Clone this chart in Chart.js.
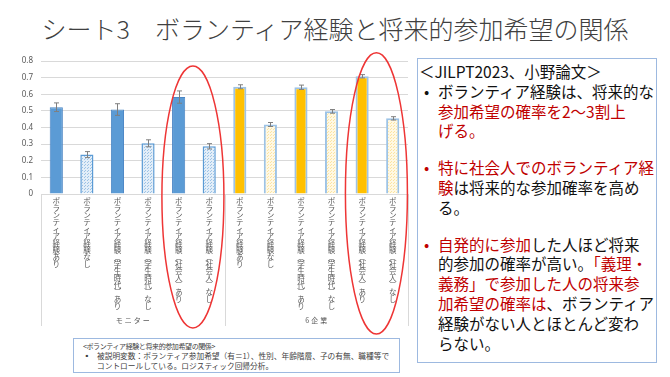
<!DOCTYPE html>
<html lang="ja">
<head>
<meta charset="utf-8">
<script src="https://cdn.jsdelivr.net/npm/chart.js@4.4.1/dist/chart.umd.min.js"></script>
<style>
  body { margin: 0; background: #fff; font-family: "Noto Sans CJK JP", "Noto Sans", sans-serif; }
  .page { position: relative; width: 670px; height: 377px; overflow: hidden; }
  .title { position: absolute; left: 0; top: 10px; width: 670px; text-align: center; font-size: 25px; line-height: 36px; font-weight: 300; color: #404040; white-space: nowrap; }
  .chart-box { position: absolute; left: 0; top: 45px; width: 415px; height: 292px; }
  .memo { position: absolute; left: 417px; top: 58px; width: 240px; height: 305px; border: 1.5px solid #9DB9E0; box-sizing: border-box; padding-top: 3px; font-size: 15.5px; line-height: 19.8px; color: #111; }
  .memo .ln { white-space: nowrap; padding-left: 20px; position: relative; }
  .memo .head { padding-left: 1px; }
  .memo .blank { height: 17px; }
  .memo .bul::before { content: "•"; position: absolute; left: 6px; }
  .memo .red, .memo .bul.r::before { color: #C00000; }
  .note { position: absolute; left: 73px; top: 338px; width: 327px; height: 35px; border: 1px solid #9DB9E0; box-sizing: border-box; font-size: 7.7px; line-height: 9.3px; color: #404040; padding: 3px 0 0 9px; }
  .note .ln { white-space: nowrap; }
  .note .hd { font-size: 7px; letter-spacing: -0.4px; }
  .note .in { padding-left: 14px; position: relative; }
  .note .sq::before { content: "▪"; position: absolute; left: 0; }
</style>
</head>
<body>
<div class="page">
  <div class="title">シート3　ボランティア経験と将来的参加希望の関係</div>
  <div class="chart-box"><canvas id="myChart" width="415" height="292"></canvas></div>
  <div class="memo">
    <div class="ln head">＜JILPT2023、小野論文＞</div>
    <div class="ln bul">ボランティア経験は、将来的な</div>
    <div class="ln red">参加希望の確率を2～3割上</div>
    <div class="ln red">げる。</div>
    <div class="blank"></div>
    <div class="ln bul r"><span class="red">特に社会人でのボランティア経</span></div>
    <div class="ln"><span class="red">験</span>は将来的な参加確率を高め</div>
    <div class="ln">る。</div>
    <div class="blank"></div>
    <div class="ln bul r"><span class="red">自発的に参加</span>した人ほど将来</div>
    <div class="ln">的参加の確率が高い。<span class="red">「義理・</span></div>
    <div class="ln red">義務」で参加した人の将来参</div>
    <div class="ln"><span class="red">加希望の確率は</span>、ボランティア</div>
    <div class="ln">経験がない人とほとんど変わ</div>
    <div class="ln">らない。</div>
  </div>
  <div class="note">
    <div class="ln hd">&lt;ボランティア経験と将来的参加希望の関係&gt;</div>
    <div class="ln in sq">被説明変数：ボランティア参加希望（有＝1）、性別、年齢階層、子の有無、職種等で</div>
    <div class="ln in">コントロールしている。ロジスティック回帰分析。</div>
  </div>
</div>

<script>
// data
const categories = [
    "ボランティア経験あり",
    "ボランティア経験なし",
    "ボランティア経験（学生時代）あり",
    "ボランティア経験（学生時代）なし",
    "ボランティア経験（社会人）あり",
    "ボランティア経験（社会人）なし",
    "ボランティア経験あり",
    "ボランティア経験なし",
    "ボランティア経験（学生時代）あり",
    "ボランティア経験（学生時代）なし",
    "ボランティア経験（社会人）あり",
    "ボランティア経験（社会人）なし",
];
const groups = ["モニター", "6企業"];
const values = [0.522, 0.237, 0.508, 0.305, 0.583, 0.287, 0.645, 0.418, 0.642, 0.497, 0.708, 0.455];
const errors = [0.026, 0.018, 0.035, 0.021, 0.037, 0.016, 0.012, 0.012, 0.013, 0.011, 0.010, 0.010];
const yTicks = [0, 0.1, 0.2, 0.3, 0.4, 0.5, 0.6, 0.7, 0.8];
const circled = [4, 10]; // 社会人 pairs marked with red ellipses

const ctx = document.getElementById("myChart");
const g2d = ctx.getContext("2d");

function dotted(base, dot) {
    const c = document.createElement("canvas");
    c.width = 3; c.height = 3;
    const g = c.getContext("2d");
    g.fillStyle = base; g.fillRect(0, 0, 3, 3);
    g.fillStyle = dot; g.fillRect(0, 0, 1, 1); g.fillRect(1, 2, 1, 1);
    return g2d.createPattern(c, "repeat");
}

const perGroup = categories.length / groups.length;
const fills = [], borders = [], widths = [];
categories.forEach((c, i) => {
    const company = i >= perGroup;
    const ari = c.endsWith("あり");
    if (!company) {
        fills.push(ari ? "#5B9BD5" : dotted("#E3EEF8", "#9DC3E6"));
        borders.push(ari ? "#4A86C5" : "#5B9BD5");
        widths.push(ari ? 1 : 1.5);
    } else {
        fills.push(ari ? "#FFC000" : dotted("#FFF8E3", "#FCE4A0"));
        borders.push("#9DC3E6");
        widths.push(2);
    }
});

// vertical (tategaki) labels: one character per line
const tateLabels = categories.map(s => Array.from(s.replace(/（/g, "︵").replace(/）/g, "︶")));

const overlay = {
    id: "overlay",
    afterDatasetsDraw(chart) {
        const c = chart.ctx, y = chart.scales.y;
        const meta = chart.getDatasetMeta(0);
        c.save();
        c.strokeStyle = "#7F7F7F";
        c.lineWidth = 1;
        meta.data.forEach((bar, i) => {
            const top = y.getPixelForValue(values[i] + errors[i]);
            const bot = y.getPixelForValue(values[i] - errors[i]);
            const x = Math.round(bar.x) + 0.5;
            c.beginPath();
            c.moveTo(x, top); c.lineTo(x, bot);
            c.moveTo(x - 2.5, top); c.lineTo(x + 2.5, top);
            c.moveTo(x - 2.5, bot); c.lineTo(x + 2.5, bot);
            c.stroke();
        });
        c.restore();
    },
    afterDraw(chart) {
        const c = chart.ctx, x = chart.scales.x, y = chart.scales.y, a = chart.chartArea;
        c.save();
        // group separators under the axis
        c.strokeStyle = "#D9D9D9";
        c.lineWidth = 1;
        const seps = [a.left];
        for (let k = 1; k < groups.length; k++) {
            seps.push((x.getPixelForValue(k * perGroup - 1) + x.getPixelForValue(k * perGroup)) / 2);
        }
        seps.push(a.right);
        seps.forEach(px => {
            c.beginPath();
            c.moveTo(Math.round(px) + 0.5, a.bottom);
            c.lineTo(Math.round(px) + 0.5, a.bottom + 132);
            c.stroke();
        });
        // group labels
        c.fillStyle = "#595959";
        c.font = "7px 'Noto Sans CJK JP'";
        c.textAlign = "center";
        c.textBaseline = "middle";
        c.letterSpacing = "2px";
        groups.forEach((g, k) => {
            const mid = (x.getPixelForValue(k * perGroup) + x.getPixelForValue((k + 1) * perGroup - 1)) / 2;
            c.fillText(g, mid + 1, a.bottom + 126);
        });
        // red ellipses
        c.strokeStyle = "#EE3535";
        c.lineWidth = 1.5;
        const tops = [0.77, 0.85];
        const drops = [134, 140];
        circled.forEach((i, k) => {
            const cx = (x.getPixelForValue(i) + x.getPixelForValue(i + 1)) / 2 - 1;
            const top = y.getPixelForValue(tops[k]);
            const bot = a.bottom + drops[k];
            c.beginPath();
            c.ellipse(cx, (top + bot) / 2, 31, (bot - top) / 2, 0, 0, Math.PI * 2);
            c.stroke();
        });
        c.restore();
    },
};

new Chart(ctx, {
    type: "bar",
    data: {
        labels: tateLabels,
        datasets: [
            {
                data: values,
                backgroundColor: fills,
                borderColor: borders,
                borderWidth: widths,
                barPercentage: 0.43,
                categoryPercentage: 1,
            },
        ],
    },
    options: {
        responsive: false,
        animation: false,
        layout: { padding: { left: 5, right: 7, top: 16, bottom: 23 } },
        plugins: {
            legend: { display: false },
            tooltip: { enabled: false },
        },
        scales: {
            x: {
                grid: { display: false, drawTicks: false },
                border: { display: true, color: "#D9D9D9", width: 1 },
                ticks: {
                    autoSkip: false,
                    maxRotation: 0,
                    minRotation: 0,
                    padding: 4,
                    color: "#595959",
                    font: { family: "'Noto Sans CJK JP'", size: 7.5, lineHeight: "7px" },
                },
                afterFit: (scale) => { scale.height = 120; },
            },
            y: {
                min: yTicks[0],
                max: yTicks[yTicks.length - 1],
                afterBuildTicks: (scale) => { scale.ticks = yTicks.map(v => ({ value: v })); },
                grid: { color: "#D9D9D9", drawTicks: false },
                border: { display: false },
                ticks: {
                    padding: 8,
                    color: "#595959",
                    font: { family: "'Noto Sans', sans-serif", size: 8 },
                    callback: (v) => (v === 0 ? "0" : v.toFixed(1)),
                },
                afterFit: (scale) => { scale.width = 36; },
            },
        },
    },
    plugins: [overlay],
});
</script>
</body>
</html>
